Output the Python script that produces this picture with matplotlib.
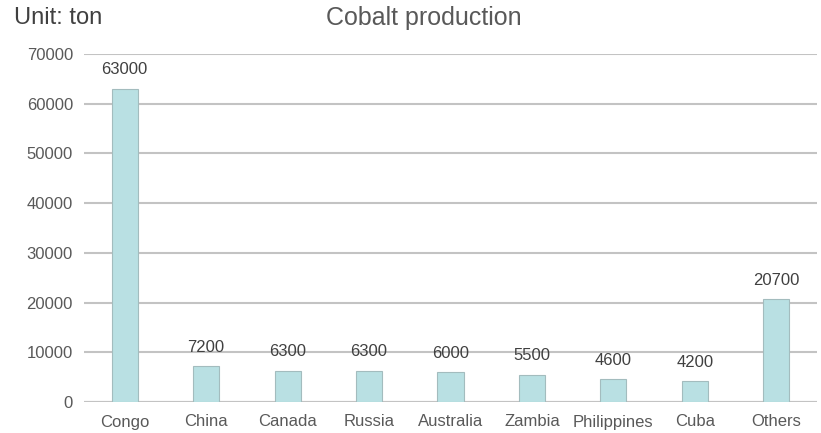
import matplotlib.pyplot as plt
import numpy as np

countries = ['Congo', 'China', 'Canada', 'Russia', 'Australia', 'Zambia',
             'Philippines', 'Cuba', 'Others']
production = [63000, 7200, 6300, 6300, 6000, 5500, 4600, 4200, 20700]
yticks = [0, 10000, 20000, 30000, 40000, 50000, 60000, 70000]

plt.rcParams['font.family'] = ['Liberation Sans', 'DejaVu Sans']

fig = plt.figure(figsize=(8.21, 4.33), dpi=100)
ax = fig.add_axes([84 / 821, 31 / 433, 733 / 821, 348 / 433])

x = np.arange(len(countries))
bars = ax.bar(x, production, width=0.32, color='#b9e0e3',
              edgecolor='#a3bcbe', linewidth=0.8, zorder=3)

for xi, v in zip(x, production):
    ax.text(xi, v + 2300, str(v), ha='center', va='bottom',
            fontsize=12, color='#404040', zorder=4)

ax.set_xlim(-0.5, len(countries) - 0.5)
ax.set_ylim(0, 70000)
ax.set_yticks(yticks)
ax.set_yticklabels([str(t) for t in yticks])
ax.set_xticks(x)
ax.set_xticklabels(countries)
ax.tick_params(axis='both', length=0, labelsize=12, colors='#595959')
ax.tick_params(axis='y', pad=8)
ax.tick_params(axis='x', pad=9)
ax.yaxis.grid(True, color='#c3c3c3', linewidth=1.5, zorder=0)
for s in ax.spines.values():
    s.set_visible(False)
ax.axhline(0, color='#c3c3c3', linewidth=1.5, zorder=2)

fig.text(424 / 821, 1 - 18 / 433, 'Cobalt production', ha='center',
         va='center', fontsize=18, color='#595959')
fig.text(14 / 821, 1 - 18 / 433, 'Unit: ton', ha='left', va='center',
         fontsize=17, color='#404040')

fig.savefig('out.png', dpi=100)
